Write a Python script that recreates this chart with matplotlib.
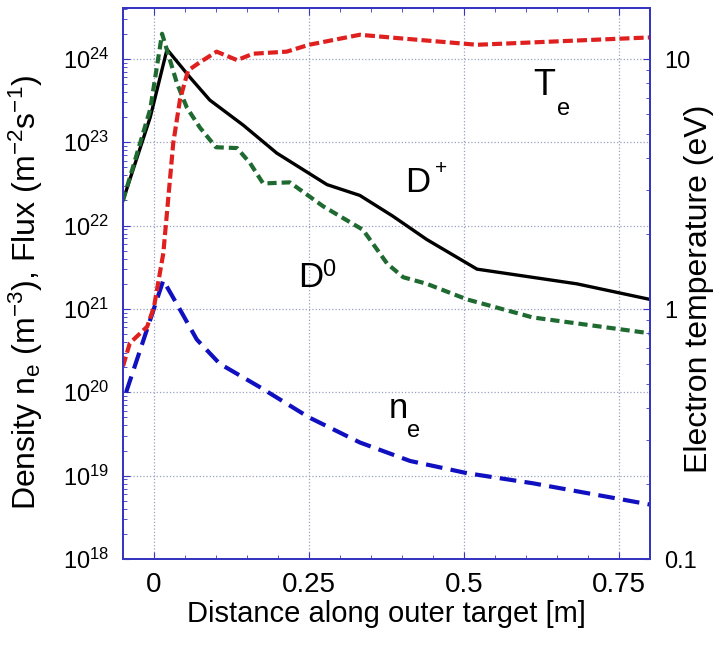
import matplotlib
matplotlib.use('Agg')
import matplotlib.pyplot as plt
from matplotlib.ticker import LogLocator, MultipleLocator, FixedLocator, FormatStrFormatter, NullFormatter

plt.rcParams['font.family'] = ['Liberation Sans', 'DejaVu Sans']
plt.rcParams['mathtext.fontset'] = 'custom'
plt.rcParams['mathtext.rm'] = 'Liberation Sans'
plt.rcParams['mathtext.it'] = 'Liberation Sans:italic'

# ion flux D+ (m^-2 s^-1)
x_dplus = [-0.05, -0.006, 0.021, 0.058, 0.09, 0.144, 0.198, 0.279, 0.332, 0.385, 0.44, 0.521, 0.682, 0.80]
dplus = [2.0e22, 2.0e23, 1.3e24, 6.0e23, 3.2e23, 1.6e23, 7.4e22, 3.1e22, 2.3e22, 1.3e22, 6.8e21, 3.0e21, 2.0e21, 1.3e21]

# neutral flux D0
x_d0 = [-0.05, -0.006, 0.013, 0.037, 0.053, 0.074, 0.10, 0.134, 0.155, 0.176, 0.219, 0.273,
        0.316, 0.337, 0.376, 0.402, 0.44, 0.505, 0.611, 0.80]
d0 = [2.0e22, 2.5e23, 2.0e24, 5.1e23, 2.6e23, 1.5e23, 8.7e22, 8.5e22, 5.6e22, 3.2e22, 3.3e22, 1.7e22,
      1.1e22, 8.9e21, 3.5e21, 2.4e21, 2.0e21, 1.3e21, 7.9e20, 5.1e20]

# electron density (m^-3)
x_ne = [-0.045, 0.015, 0.042, 0.069, 0.106, 0.171, 0.25, 0.332, 0.413, 0.505, 0.611, 0.80]
ne = [1.0e20, 2.2e21, 9.8e20, 4.3e20, 2.2e20, 1.15e20, 5.0e19, 2.5e19, 1.5e19, 1.07e19, 8.1e18, 4.5e18]

# electron temperature (eV)
x_te = [-0.05, -0.039, -0.011, 0.0, 0.015, 0.031, 0.042, 0.055, 0.074, 0.101, 0.134, 0.16,
        0.214, 0.25, 0.332, 0.397, 0.521, 0.80]
te = [0.59, 0.73, 0.85, 1.02, 1.67, 4.6, 6.9, 9.0, 9.7, 10.7, 9.9, 10.5,
      10.7, 11.4, 12.5, 12.1, 11.4, 12.2]

x_ticks = [0, 0.25, 0.5, 0.75]
x_ticklabels = ['0', '0.25', '0.5', '0.75']
te_ticks = [0.1, 1, 10]

W, H = 728, 656
frame = '#3535c0'


def px(x, y):
    return x / W, 1 - y / H


fig = plt.figure(figsize=(W / 100, H / 100), dpi=100)
ax = fig.add_axes([123 / W, 1 - 559 / H, (650 - 123) / W, (559 - 8) / H])

ax.set_yscale('log')
ax.set_xlim(-0.05, 0.8)
ax.set_ylim(1e18, 10 ** 24.61)

ax.plot(x_dplus, dplus, color='black', lw=2.4)
ax.plot(x_d0, d0, color='#1f6a30', lw=3, ls=(0, (2.2, 1.2)))
ax.plot(x_ne, ne, color='#1010c0', lw=3, ls=(0, (4, 2)))

ax.set_xticks(x_ticks)
ax.set_xticklabels(x_ticklabels)
ax.xaxis.set_minor_locator(MultipleLocator(0.05))
ax.yaxis.set_major_locator(LogLocator(base=10, numticks=12))
ax.yaxis.set_minor_locator(LogLocator(base=10, subs=range(2, 10), numticks=12))
ax.yaxis.set_minor_formatter(NullFormatter())
ax.tick_params(which='both', direction='in', top=True, color=frame)
ax.tick_params(axis='x', which='major', labelsize=20, length=5, pad=9)
ax.tick_params(axis='y', which='major', labelsize=17, length=5, pad=10)
ax.tick_params(which='minor', length=3)
ax.grid(True, which='major', ls=':', color='#9aa0c0', lw=0.9)

ax2 = ax.twinx()
ax2.set_yscale('log')
ax2.set_ylim(0.1, 10 ** 1.204)
ax2.plot(x_te, te, color='#e01f1f', lw=3, ls=(0, (2.4, 1.0)))
ax2.yaxis.set_major_locator(FixedLocator(te_ticks))
ax2.yaxis.set_major_formatter(FormatStrFormatter('%g'))
ax2.yaxis.set_minor_locator(LogLocator(base=10, subs=range(2, 10), numticks=12))
ax2.yaxis.set_minor_formatter(NullFormatter())
ax2.tick_params(which='both', direction='in', color=frame)
ax2.tick_params(which='major', labelsize=17, length=5, pad=10)
ax2.tick_params(which='minor', length=3)

for a in (ax, ax2):
    for s in a.spines.values():
        s.set_color(frame)
        s.set_linewidth(1.3)

fig.text(*px(386, 614), 'Distance along outer target [m]', fontsize=21, ha='center', va='center')
fig.text(*px(26, 292), 'Density n$_\\mathrm{e}$ (m$^{-3}$), Flux (m$^{-2}$s$^{-1}$)',
         fontsize=23, rotation=90, ha='center', va='center')
fig.text(*px(699, 289), 'Electron temperature (eV)', fontsize=23, rotation=90, ha='center', va='center')

# curve labels
fig.text(*px(533, 95), 'T', fontsize=26, va='baseline')
fig.text(*px(557, 115), 'e', fontsize=17, va='baseline')
fig.text(*px(405, 192), 'D', fontsize=25, va='baseline')
fig.text(*px(435, 174), '+', fontsize=15, va='baseline')
fig.text(*px(298, 287), 'D', fontsize=25, va='baseline')
fig.text(*px(322, 276), '0', fontsize=17, va='baseline')
fig.text(*px(389, 418), 'n', fontsize=25, va='baseline')
fig.text(*px(407, 437), 'e', fontsize=17, va='baseline')

fig.savefig('out.png', dpi=100)
